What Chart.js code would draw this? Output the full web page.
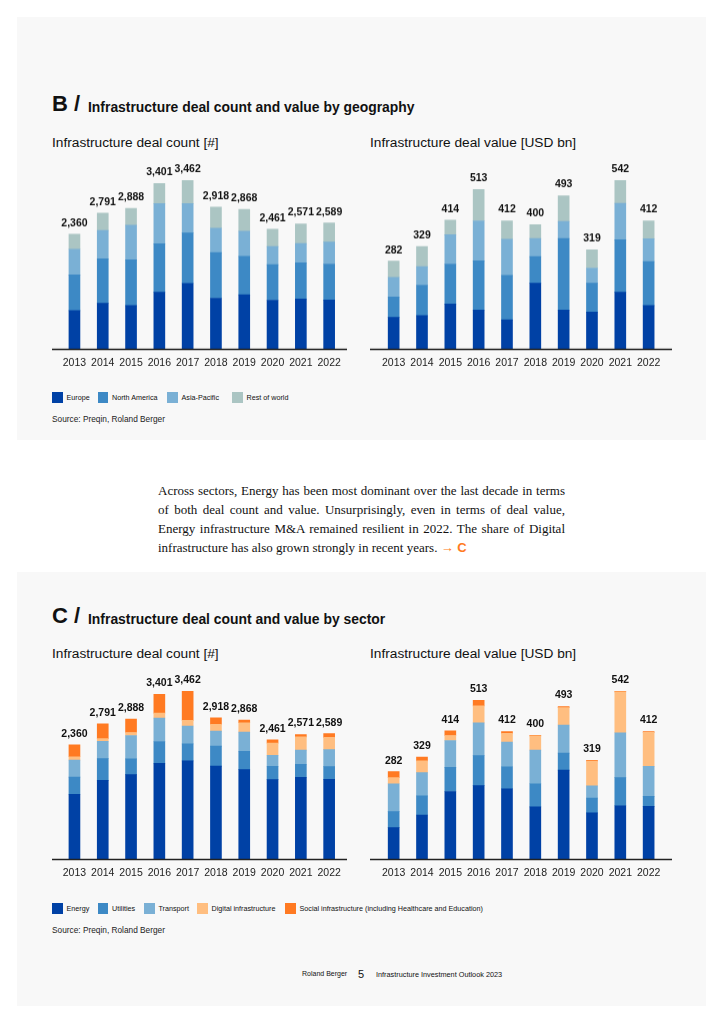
<!DOCTYPE html>
<html>
<head>
<meta charset="utf-8">
<script src="https://cdn.jsdelivr.net/npm/chart.js@4.4.1/dist/chart.umd.min.js"></script>
<style>
  body { margin: 0; width: 724px; height: 1024px; background: #fff; position: relative; overflow: hidden;
         font-family: "Liberation Sans", Arial, sans-serif; color: #111; }
  .panel { position: absolute; left: 17px; width: 689px; background: #f8f8f8; }
  .abs { position: absolute; white-space: nowrap; }
  .big { font-size: 22px; font-weight: bold; }
  .ttl { font-size: 13.9px; font-weight: bold; }
  .sub { font-size: 13.7px; }
  .box { position: absolute; width: 300px; height: 226.5px; }
  .leg { position: absolute; font-size: 7.2px; color: #111; display: flex; align-items: center; }
  .leg span.sw { display: inline-block; width: 10.5px; height: 10.5px; margin-right: 4px; }
  .leg span.it { display: flex; align-items: center; position: absolute; white-space: nowrap; }
  .src { font-size: 8.3px; color: #222; }
  .para { position: absolute; left: 158px; top: 481px; width: 407px; font-family: "Liberation Serif", "Times New Roman", serif;
          font-size: 13px; line-height: 19px; text-align: justify; color: #111; }
  .para b { font-family: "Liberation Sans", Arial, sans-serif; color: #ff7a22; }
</style>
</head>
<body>
<div class="panel" style="top:17px;height:423px;"></div>
<div class="panel" style="top:572px;height:434px;"></div>

<div class="abs big" style="left:52px;top:91px;">B /</div>
<div class="abs ttl" style="left:88px;top:99px;">Infrastructure deal count and value by geography</div>
<div class="abs sub" style="left:52px;top:135px;">Infrastructure deal count [#]</div>
<div class="abs sub" style="left:370px;top:135px;">Infrastructure deal value [USD bn]</div>
<div class="box" style="left:50px;top:150px;"><canvas id="geoCount"></canvas></div>
<div class="box" style="left:368px;top:150px;width:308px;"><canvas id="geoValue"></canvas></div>
<div class="leg" id="legGeo" style="left:52px;top:397px;"></div>
<div class="abs src" style="left:52px;top:414px;">Source: Preqin, Roland Berger</div>

<div class="para">Across sectors, Energy has been most dominant over the last decade in terms of both deal count and value. Unsurprisingly, even in terms of deal value, Energy infrastructure M&amp;A remained resilient in 2022. The share of Digital infrastructure has also grown strongly in recent years. <b>&#8594; C</b></div>

<div class="abs big" style="left:52px;top:603px;">C /</div>
<div class="abs ttl" style="left:88px;top:611px;">Infrastructure deal count and value by sector</div>
<div class="abs sub" style="left:52px;top:646px;">Infrastructure deal count [#]</div>
<div class="abs sub" style="left:370px;top:646px;">Infrastructure deal value [USD bn]</div>
<div class="box" style="left:50px;top:660.5px;"><canvas id="secCount"></canvas></div>
<div class="box" style="left:368px;top:660.5px;width:308px;"><canvas id="secValue"></canvas></div>
<div class="leg" id="legSec" style="left:52px;top:908px;"></div>
<div class="abs src" style="left:52px;top:925px;">Source: Preqin, Roland Berger</div>

<div class="abs" style="left:302px;top:970px;font-size:7px;">Roland Berger</div>
<div class="abs" style="left:358px;top:968px;font-size:11px;">5</div>
<div class="abs" style="left:376px;top:970px;font-size:7.3px;">Infrastructure Investment Outlook 2023</div>

<script>
const years = ["2013", "2014", "2015", "2016", "2017", "2018", "2019", "2020", "2021", "2022"];

// deal count by geography
const countEurope = [787, 935, 889, 1163, 1346, 1042, 1110, 1000, 1027, 1004];
const countNorthAmerica = [731, 914, 944, 998, 1037, 938, 793, 731, 744, 741];
const countAsiaPacific = [531, 584, 710, 826, 604, 504, 517, 372, 393, 450];
const countRestOfWorld = [311, 358, 345, 414, 475, 434, 448, 358, 407, 394];
const countTotals = [2360, 2791, 2888, 3401, 3462, 2918, 2868, 2461, 2571, 2589];

// deal value by geography (USD bn)
const valueEurope = [101, 107, 144, 125, 93, 211, 125, 118, 182, 139];
const valueNorthAmerica = [66, 98, 129, 158, 143, 86, 230, 93, 169, 142];
const valueAsiaPacific = [63, 60, 94, 129, 117, 58, 55, 49, 117, 73];
const valueRestOfWorld = [52, 64, 47, 101, 59, 45, 83, 59, 74, 58];
const valueTotals = [282, 329, 414, 513, 412, 400, 493, 319, 542, 412];

// deal count by sector
const countEnergy = [1336, 1624, 1741, 1977, 2026, 1916, 1845, 1638, 1687, 1644];
const countUtilities = [353, 449, 325, 449, 350, 415, 380, 277, 270, 262];
const countTransport = [353, 359, 484, 484, 371, 311, 394, 228, 290, 352];
const countDigital = [69, 55, 62, 104, 117, 138, 194, 249, 276, 255];
const countSocial = [249, 304, 276, 387, 598, 138, 55, 69, 48, 76];

// deal value by sector (USD bn)
const valueEnergy = [101, 142, 218, 237, 227, 168, 287, 149, 172, 170];
const valueUtilities = [52, 62, 78, 97, 71, 75, 55, 48, 91, 32];
const valueTransport = [90, 75, 87, 106, 80, 109, 91, 39, 145, 97];
const valueDigital = [20, 38, 16, 55, 28, 46, 56, 80, 132, 110];
const valueSocial = [19, 12, 15, 18, 6, 2, 4, 3, 2, 3];

const geoNames = ["Europe", "North America", "Asia-Pacific", "Rest of world"];
const geoColors = ["#0041a5", "#3d89c5", "#7ab0d5", "#abc5c3"];
const secNames = ["Energy", "Utilities", "Transport", "Digital infrastructure", "Social infrastructure (including Healthcare and Education)"];
const secColors = ["#0041a5", "#3d89c5", "#7ab0d5", "#ffbe80", "#ff7a22"];

Chart.defaults.font.family = '"Liberation Sans", Arial, sans-serif';
Chart.defaults.color = "#222";

function buildLegend(id, names, colors, lefts) {
  const el = document.getElementById(id);
  names.forEach((n, i) => {
    el.innerHTML += `<span class="it" style="left:${lefts[i]}px;top:-5px;"><span class="sw" style="background:${colors[i]}"></span>${n}</span>`;
  });
}
buildLegend("legGeo", geoNames, geoColors, [0, 45.5, 115, 180]);
buildLegend("legSec", secNames, secColors, [0, 45.5, 92, 145, 233]);

const totalsPlugin = {
  id: "totals",
  afterDatasetsDraw(chart, args, opts) {
    const ctx = chart.ctx;
    const x = chart.scales.x, y = chart.scales.y;
    ctx.save();
    // axis line, a bit wider than the plot area
    ctx.strokeStyle = "#222";
    ctx.lineWidth = 1.5;
    ctx.beginPath();
    ctx.moveTo(opts.lineLeft, chart.chartArea.bottom + 0.5);
    ctx.lineTo(opts.lineRight, chart.chartArea.bottom + 0.5);
    ctx.stroke();
    ctx.fillStyle = "#111";
    ctx.font = "bold 10.5px 'Liberation Sans', Arial, sans-serif";
    ctx.textAlign = "center";
    ctx.textBaseline = "middle";
    opts.totals.forEach((t, i) => {
      ctx.fillText(t.toLocaleString("en-US"), x.getPixelForValue(i), y.getPixelForValue(t) - 11);
    });
    ctx.restore();
  }
};

function makeChart(id, series, names, colors, totals, max, pad, lineLeft, lineRight) {
  const ctx = document.getElementById(id).getContext("2d");
  new Chart(ctx, {
    type: "bar",
    data: {
      labels: years,
      datasets: series.map((s, i) => ({
        label: names[i],
        data: s,
        backgroundColor: colors[i],
        barThickness: 11
      }))
    },
    options: {
      responsive: true,
      maintainAspectRatio: false,
      animation: false,
      layout: { padding: { left: pad[0], right: pad[1], top: 0, bottom: 0 } },
      plugins: {
        legend: { display: false },
        tooltip: { enabled: false },
        totals: { totals: totals, lineLeft: lineLeft, lineRight: lineRight }
      },
      scales: {
        x: {
          stacked: true,
          grid: { display: false, drawTicks: false },
          border: { display: false },
          ticks: { font: { size: 10.5 }, color: "#222", padding: 8, maxRotation: 0 }
        },
        y: { stacked: true, display: false, min: 0, max: max }
      }
    },
    plugins: [totalsPlugin]
  });
}

makeChart("geoCount", [countEurope, countNorthAmerica, countAsiaPacific, countRestOfWorld],
  geoNames, geoColors, countTotals, 4090, [10.3, 6.7], 2, 297);
makeChart("geoValue", [valueEurope, valueNorthAmerica, valueAsiaPacific, valueRestOfWorld],
  geoNames, geoColors, valueTotals, 640, [11.5, 13.2], 2, 304);
makeChart("secCount", [countEnergy, countUtilities, countTransport, countDigital, countSocial],
  secNames, secColors, countTotals, 4090, [10.3, 6.7], 2, 297);
makeChart("secValue", [valueEnergy, valueUtilities, valueTransport, valueDigital, valueSocial],
  secNames, secColors, valueTotals, 640, [11.5, 13.2], 2, 304);
</script>
</body>
</html>
